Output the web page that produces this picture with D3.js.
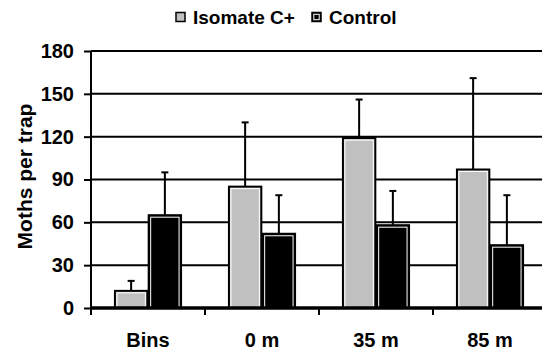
<!DOCTYPE html>
<html>
<head>
<meta charset="utf-8">
<script src="https://cdn.jsdelivr.net/npm/d3@7"></script>
<style>
  body { margin: 0; background: #fff; }
  svg { display: block; font-family: "Liberation Sans", Arial, sans-serif; font-weight: bold; }
</style>
</head>
<body>
<div id="chart"></div>
<script>
var categories = ['Bins', '0 m', '35 m', '85 m'];
var seriesNames = ['Isomate C+', 'Control'];
var isomate = [12, 85, 119, 97];
var isomateErr = [7, 45, 27, 64];
var control = [65, 52, 58, 44];
var controlErr = [30, 27, 24, 35];
var yTicks = [0, 30, 60, 90, 120, 150, 180];

var colors = ['#c0c0c0', '#000000'];

var width = 542, height = 358;
var plotLeft = 91, plotRight = 547, plotTop = 51, plotBottom = 308;

var svg = d3.select('#chart').append('svg')
    .attr('width', width)
    .attr('height', height);

var y = d3.scaleLinear().domain([0, 180]).range([plotBottom, plotTop]);
var x0 = d3.scaleBand().domain(categories).range([plotLeft, plotRight]);
var x1 = d3.scaleBand().domain(seriesNames)
    .range([x0.bandwidth() * 0.21, x0.bandwidth() * 0.79])
    .paddingInner(0.04);

// gridlines
svg.append('g').selectAll('line')
    .data(yTicks.filter(function(d) { return d > 0; }))
    .enter().append('line')
    .attr('x1', plotLeft).attr('x2', plotRight)
    .attr('y1', function(d) { return y(d); })
    .attr('y2', function(d) { return y(d); })
    .attr('stroke', '#000')
    .attr('stroke-width', 2);

// y axis
var yAxis = svg.append('g')
    .attr('transform', 'translate(' + plotLeft + ',0)')
    .call(d3.axisLeft(y).tickValues(yTicks).tickSize(7).tickPadding(10));
yAxis.select('.domain').remove();
yAxis.selectAll('line').attr('stroke', '#000').attr('stroke-width', 2);
yAxis.selectAll('text').attr('font-size', 20).attr('font-family', null).attr('fill', '#000');
svg.append('line')
    .attr('x1', plotLeft).attr('x2', plotLeft)
    .attr('y1', plotTop).attr('y2', plotBottom + 7)
    .attr('stroke', '#000').attr('stroke-width', 2);

// rows of data per category
var rows = categories.map(function(c, i) {
    return [
        { cat: c, s: seriesNames[0], v: isomate[i], e: isomateErr[i], c: colors[0] },
        { cat: c, s: seriesNames[1], v: control[i], e: controlErr[i], c: colors[1] }
    ];
});

var groups = svg.append('g').selectAll('g')
    .data(rows)
    .enter().append('g')
    .attr('transform', function(d) { return 'translate(' + x0(d[0].cat) + ',0)'; });

var bars = groups.selectAll('g.bar')
    .data(function(d) { return d; })
    .enter().append('g').attr('class', 'bar');

// error bars (upper only)
bars.append('line')
    .attr('x1', function(d) { return x1(d.s) + x1.bandwidth() / 2; })
    .attr('x2', function(d) { return x1(d.s) + x1.bandwidth() / 2; })
    .attr('y1', function(d) { return y(d.v); })
    .attr('y2', function(d) { return y(d.v + d.e); })
    .attr('stroke', '#000').attr('stroke-width', 2);
bars.append('line')
    .attr('x1', function(d) { return x1(d.s) + x1.bandwidth() / 2 - 3.5; })
    .attr('x2', function(d) { return x1(d.s) + x1.bandwidth() / 2 + 3.5; })
    .attr('y1', function(d) { return y(d.v + d.e); })
    .attr('y2', function(d) { return y(d.v + d.e); })
    .attr('stroke', '#000').attr('stroke-width', 2);

bars.append('rect')
    .attr('x', function(d) { return x1(d.s); })
    .attr('y', function(d) { return y(d.v); })
    .attr('width', x1.bandwidth())
    .attr('height', function(d) { return y(0) - y(d.v); })
    .attr('fill', function(d) { return d.c; })
    .attr('stroke', '#000').attr('stroke-width', 2);
bars.append('rect')
    .attr('x', function(d) { return x1(d.s) + 2; })
    .attr('y', function(d) { return y(d.v) + 2; })
    .attr('width', x1.bandwidth() - 4)
    .attr('height', function(d) { return Math.max(0, y(0) - y(d.v) - 2); })
    .attr('fill', 'none')
    .attr('stroke', '#fff').attr('stroke-width', 1);

// x axis
svg.append('line')
    .attr('x1', plotLeft).attr('x2', plotRight)
    .attr('y1', y(0)).attr('y2', y(0))
    .attr('stroke', '#000').attr('stroke-width', 3.5);
svg.append('g').selectAll('line')
    .data(categories.slice(1))
    .enter().append('line')
    .attr('x1', function(d) { return x0(d); })
    .attr('x2', function(d) { return x0(d); })
    .attr('y1', y(0)).attr('y2', y(0) + 7)
    .attr('stroke', '#000').attr('stroke-width', 2);
svg.append('g').selectAll('text')
    .data(categories)
    .enter().append('text')
    .attr('x', function(d) { return x0(d) + x0.bandwidth() / 2; })
    .attr('y', 347)
    .attr('text-anchor', 'middle')
    .attr('font-size', 20)
    .text(function(d) { return d; });

// y title
svg.append('text')
    .attr('transform', 'translate(32,' + ((plotTop + plotBottom) / 2 - 3) + ') rotate(-90)')
    .attr('text-anchor', 'middle')
    .attr('font-size', 21)
    .text('Moths per trap');

// legend
var legendItems = [
    { name: seriesNames[0], c: colors[0], bx: 176, tx: 193 },
    { name: seriesNames[1], c: colors[1], bx: 312, tx: 329 }
];
var legend = svg.append('g').selectAll('g')
    .data(legendItems)
    .enter().append('g');
legend.append('rect')
    .attr('x', function(d) { return d.bx; })
    .attr('y', 12.5)
    .attr('width', 9).attr('height', 9)
    .attr('fill', function(d) { return d.c; })
    .attr('stroke', '#000').attr('stroke-width', 1.5);
legend.append('rect')
    .attr('x', function(d) { return d.bx + 1.8; })
    .attr('y', 14.3)
    .attr('width', 5.4).attr('height', 5.4)
    .attr('fill', 'none')
    .attr('stroke', '#fff').attr('stroke-width', 1)
    .attr('opacity', function(d, i) { return i === 1 ? 1 : 0; });
legend.append('text')
    .attr('x', function(d) { return d.tx; })
    .attr('y', 23.5)
    .attr('font-size', 19)
    .text(function(d) { return d.name; });
</script>
</body>
</html>
